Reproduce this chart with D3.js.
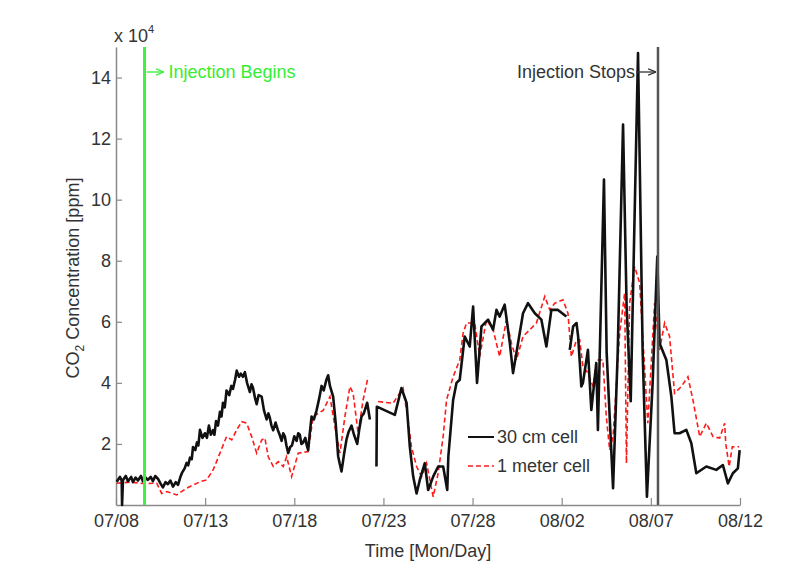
<!DOCTYPE html>
<html>
<head>
<meta charset="utf-8">
<script src="https://cdn.jsdelivr.net/npm/d3@7"></script>
<style>
  body { margin: 0; background: #fff; }
  text { font-family: "Liberation Sans", Arial, Helvetica, sans-serif; }
</style>
</head>
<body>
<svg width="805" height="565"></svg>
<script>
// x values are days since 07/08, y values are CO2 in units of 10^4 ppm
const tickDays = [0, 5, 10, 15, 20, 25, 30, 35];
const tickLabels = ["07/08", "07/13", "07/18", "07/23", "07/28", "08/02", "08/07", "08/12"];
const yTicks = [2, 4, 6, 8, 10, 12, 14];

const injectionBeginDay = 1.6;
const injectionStopDay = 30.4;

// 30 cm cell (null = gap in record)
const cell30cm = [
  [0.04, 0.76], [0.22, 0.92], [0.32, 0.8], [0.34, 0.0], [0.39, 0.82], [0.55, 0.95], [0.67, 0.78],
  [0.85, 0.92], [0.95, 0.75], [1.1, 0.9], [1.23, 0.8], [1.4, 0.95], [1.51, 0.78], [1.65, 0.9],
  [1.79, 0.82], [1.95, 0.92], [2.07, 0.78], [2.2, 0.95], [2.35, 0.86], [2.5, 0.7], [2.63, 0.58],
  [2.78, 0.75], [2.91, 0.68], [3.05, 0.8], [3.2, 0.6], [3.35, 0.75], [3.48, 0.66], [3.6, 0.9],
  [3.7, 1.05], [3.85, 1.2], [3.96, 1.38], [4.05, 1.3], [4.15, 1.55], [4.25, 1.5], [4.32, 1.9],
  [4.45, 1.8], [4.54, 2.05], [4.62, 1.95], [4.71, 2.46], [4.85, 2.2], [4.99, 2.35], [5.1, 2.2],
  [5.21, 2.6], [5.32, 2.3], [5.44, 2.45], [5.52, 2.3], [5.61, 2.75], [5.72, 2.6], [5.83, 3.05],
  [5.92, 2.9], [6.0, 3.35], [6.1, 3.2], [6.2, 3.75], [6.35, 3.6], [6.47, 3.9], [6.56, 3.8],
  [6.68, 4.1], [6.77, 4.4], [6.9, 4.2], [7.0, 4.3], [7.12, 4.2], [7.23, 4.35], [7.35, 4.0],
  [7.51, 3.7], [7.6, 3.95], [7.68, 3.85], [7.8, 3.5], [7.89, 3.3], [8.0, 3.6], [8.17, 3.55],
  [8.3, 3.1], [8.45, 2.8], [8.55, 3.0], [8.63, 2.85], [8.72, 2.6], [8.82, 2.45], [8.95, 2.7],
  [9.08, 2.45], [9.18, 2.3], [9.29, 2.1], [9.38, 2.35], [9.47, 2.25], [9.56, 1.95], [9.66, 1.7],
  [9.77, 1.9], [9.87, 1.95], [10.0, 2.25], [10.13, 2.1], [10.22, 2.35], [10.31, 2.3], [10.4, 2.0],
  [10.5, 2.05], [10.62, 2.2], [10.7, 1.95], [10.78, 1.8], [10.86, 2.3], [10.97, 2.9], [11.1, 2.8],
  [11.25, 3.1], [11.4, 3.5], [11.53, 3.9], [11.65, 3.75], [11.8, 4.1], [11.9, 4.25], [12.0, 3.9],
  [12.18, 3.55], [12.32, 2.7], [12.46, 1.6], [12.55, 1.35], [12.65, 1.1], [12.8, 1.7], [12.93, 2.15],
  [13.05, 2.4], [13.21, 2.6], [13.35, 2.3], [13.53, 2.0], [13.65, 2.5], [13.77, 2.9], [13.9, 3.0],
  [14.09, 3.35], [14.24, 2.8], [14.3, null],
  [14.61, 1.26], [14.63, 3.22], [15.64, 2.95], [16.01, 3.83], [16.3, 3.34], [16.48, 1.91],
  [16.67, 0.93], [16.86, 0.38], [17.04, 0.82], [17.32, 1.37], [17.51, 0.49], [17.79, 0.93],
  [18.07, 1.26], [18.35, 1.26], [18.58, 0.49], [18.64, 1.58], [18.91, 3.44], [19.1, 4.0],
  [19.28, 4.1], [19.56, 5.52], [19.84, 5.19], [20.03, 6.5], [20.25, 4.0], [20.5, 5.85],
  [20.87, 6.07], [21.15, 5.74], [21.34, 6.39], [21.52, 6.17], [21.8, 6.56], [22.09, 5.3],
  [22.27, 4.32], [22.55, 5.3], [22.83, 6.28], [23.11, 6.61], [23.49, 6.28], [23.86, 6.07],
  [24.14, 5.19], [24.42, 6.39], [24.79, 6.39], [25.26, 6.17], [25.35, null],
  [25.45, 5.08], [25.64, 5.85], [25.83, 5.96], [25.92, 5.52], [26.1, 3.88], [26.19, 4.0],
  [26.47, 5.08], [26.66, 3.11], [26.94, 4.65], [27.03, 2.46], [27.37, 10.66], [27.52, 5.0],
  [27.88, 0.55], [28.14, 5.0], [28.44, 12.46], [28.64, 6.5], [28.87, 3.4], [29.28, 14.8],
  [29.54, 5.0], [29.78, 0.27], [30.1, 4.0], [30.36, 8.14], [30.49, 5.3], [30.87, 4.75],
  [31.15, 3.55], [31.33, 2.35], [31.61, 2.35], [31.99, 2.46], [32.27, 2.02], [32.55, 1.04],
  [33.11, 1.26], [33.67, 1.15], [34.04, 1.31], [34.32, 0.71], [34.6, 1.04], [34.88, 1.2], [34.98, 1.8]
];

// 1 meter cell
const cell1m = [
  [0.04, 0.71], [0.78, 0.75], [1.63, 0.7], [2.28, 0.72], [2.56, 0.38], [2.84, 0.44], [3.4, 0.33],
  [3.96, 0.55], [4.71, 0.76], [5.08, 0.82], [5.45, 1.15], [5.83, 1.7], [6.2, 2.24], [6.49, 2.13],
  [6.77, 2.46], [7.05, 2.73], [7.33, 2.68], [7.61, 2.24], [7.89, 1.7], [8.17, 2.13], [8.35, 2.19],
  [8.54, 1.58], [8.82, 1.26], [9.1, 1.42], [9.38, 1.26], [9.57, 1.58], [9.85, 0.93], [10.22, 1.7],
  [10.78, 1.75], [11.06, 2.9], [11.62, 3.1], [12.0, 3.55], [12.28, 2.57], [12.56, 1.7], [12.84, 2.9],
  [13.12, 3.88], [13.3, 3.66], [13.58, 2.35], [13.86, 3.44], [14.14, 4.2], [14.3, null],
  [14.7, 3.39], [15.54, 3.33], [16.1, 3.83], [16.38, 2.79], [16.57, 1.91], [16.86, 1.26],
  [17.14, 0.93], [17.42, 1.37], [17.79, 0.27], [18.07, 1.04], [18.35, 2.24], [18.54, 3.44],
  [18.91, 4.2], [19.28, 4.75], [19.47, 5.63], [19.66, 5.96], [20.12, 5.96], [20.4, 4.86],
  [20.78, 6.07], [21.15, 5.74], [21.52, 4.86], [21.9, 6.07], [22.18, 5.3], [22.46, 4.75],
  [22.83, 5.52], [23.21, 5.74], [23.58, 5.96], [24.05, 6.83], [24.33, 6.39], [24.61, 6.61],
  [25.07, 6.72], [25.35, 6.28], [25.54, 4.86], [25.83, 5.41], [26.01, 5.41], [26.19, 4.53],
  [26.47, 4.32], [26.76, 3.88], [26.94, 4.75], [27.31, 4.75], [27.5, 2.9], [27.69, 1.8],
  [27.88, 2.24], [28.25, 5.63], [28.53, 6.94], [28.63, 1.37], [28.81, 6.61], [29.09, 7.81],
  [29.37, 7.27], [29.83, 2.68], [30.21, 6.61], [30.49, 5.08], [30.77, 5.96], [31.05, 5.52],
  [31.33, 3.66], [31.71, 3.88], [32.08, 4.2], [32.36, 3.44], [32.74, 2.24], [33.11, 2.68],
  [33.49, 2.24], [33.86, 2.19], [34.14, 2.68], [34.2, 2.02], [34.39, 1.26], [34.57, 1.91], [34.95, 1.91]
];

const svg = d3.select("svg");
const fontSize = 18;

const x = d3.scaleLinear().domain([0, 35]).range([116, 740]);
const y = d3.scaleLinear().domain([0, 15]).range([505, 47]);

// axes, MATLAB style ticks pointing inward
const xAxis = svg.append("g")
  .attr("transform", `translate(0, ${y(0)})`)
  .call(d3.axisBottom(x)
    .tickValues(tickDays)
    .tickFormat((d, i) => tickLabels[i])
    .tickSizeInner(-7)
    .tickSizeOuter(0)
    .tickPadding(9));

const yAxis = svg.append("g")
  .attr("transform", `translate(${x(0)}, 0)`)
  .call(d3.axisLeft(y)
    .tickValues(yTicks)
    .tickSizeInner(-6)
    .tickSizeOuter(0)
    .tickPadding(5));

[xAxis, yAxis].forEach(g => {
  g.select(".domain").attr("stroke", "#8a8a8a").attr("stroke-width", 1.5);
  g.selectAll(".tick line").attr("stroke", "#8a8a8a").attr("stroke-width", 1.2);
  g.selectAll(".tick text")
    .attr("fill", "#333")
    .style("font-size", fontSize + "px")
    .style("font-family", "'Liberation Sans', Arial, sans-serif");
});

// x 10^4 multiplier
const mult = svg.append("text")
  .attr("x", 114)
  .attr("y", 42)
  .attr("fill", "#333")
  .style("font-size", fontSize + "px");
mult.append("tspan").text("x 10");
mult.append("tspan").attr("dy", -9).style("font-size", "11px").text("4");

// data lines
const line = d3.line()
  .defined(d => d[1] != null)
  .x(d => x(d[0]))
  .y(d => y(d[1]));

svg.append("path")
  .datum(cell1m)
  .attr("d", line)
  .attr("fill", "none")
  .attr("stroke", "#ff1a1a")
  .attr("stroke-width", 1.6)
  .attr("stroke-dasharray", "5,3");

svg.append("path")
  .datum(cell30cm)
  .attr("d", line)
  .attr("fill", "none")
  .attr("stroke", "#111")
  .attr("stroke-width", 2.6)
  .attr("stroke-linejoin", "round");

// arrow markers
const defs = svg.append("defs");
[["arrowGreen", "#33ee33"], ["arrowGray", "#333"]].forEach(([id, c]) => {
  defs.append("marker")
    .attr("id", id)
    .attr("viewBox", "0 -5 10 10")
    .attr("refX", 10)
    .attr("refY", 0)
    .attr("markerWidth", 6)
    .attr("markerHeight", 6)
    .attr("orient", "auto")
    .append("path")
    .attr("d", "M0,-4L10,0L0,4")
    .attr("fill", "none")
    .attr("stroke", c)
    .attr("stroke-width", 1.5);
});

// injection begins
const xb = x(injectionBeginDay);
svg.append("line")
  .attr("x1", xb).attr("x2", xb)
  .attr("y1", y(15)).attr("y2", y(0))
  .attr("stroke", "#44ee44")
  .attr("stroke-width", 3);

svg.append("line")
  .attr("x1", xb + 2).attr("x2", xb + 19)
  .attr("y1", 72).attr("y2", 72)
  .attr("stroke", "#33ee33")
  .attr("stroke-width", 1.3)
  .attr("marker-end", "url(#arrowGreen)");

svg.append("text")
  .attr("x", xb + 24)
  .attr("y", 78)
  .attr("fill", "#33ee33")
  .style("font-size", fontSize + "px")
  .text("Injection Begins");

// injection stops
const xs = x(injectionStopDay);
svg.append("line")
  .attr("x1", xs).attr("x2", xs)
  .attr("y1", y(15)).attr("y2", y(0))
  .attr("stroke", "#555")
  .attr("stroke-width", 2.5);

svg.append("line")
  .attr("x1", xs - 22).attr("x2", xs - 2)
  .attr("y1", 72).attr("y2", 72)
  .attr("stroke", "#333")
  .attr("stroke-width", 1.3)
  .attr("marker-end", "url(#arrowGray)");

svg.append("text")
  .attr("x", xs - 23)
  .attr("y", 78)
  .attr("text-anchor", "end")
  .attr("fill", "#333")
  .style("font-size", fontSize + "px")
  .text("Injection Stops");

// legend
const legend = [
  {label: "30 cm cell", color: "#111", dash: null, width: 2},
  {label: "1 meter cell", color: "#ff1a1a", dash: "5,3", width: 1.6}
];
legend.forEach((d, i) => {
  const ly = 437 + i * 29;
  svg.append("line")
    .attr("x1", 468).attr("x2", 494)
    .attr("y1", ly).attr("y2", ly)
    .attr("stroke", d.color)
    .attr("stroke-width", d.width)
    .attr("stroke-dasharray", d.dash);
  svg.append("text")
    .attr("x", 497)
    .attr("y", ly + 6)
    .attr("fill", "#333")
    .style("font-size", fontSize + "px")
    .text(d.label);
});

// axis labels
svg.append("text")
  .attr("x", 428)
  .attr("y", 557)
  .attr("text-anchor", "middle")
  .attr("fill", "#333")
  .style("font-size", fontSize + "px")
  .text("Time [Mon/Day]");

const ylab = svg.append("text")
  .attr("transform", "translate(79, 278) rotate(-90)")
  .attr("text-anchor", "middle")
  .attr("fill", "#333")
  .style("font-size", fontSize + "px");
ylab.append("tspan").text("CO");
ylab.append("tspan").attr("dy", 5).style("font-size", "12px").text("2");
ylab.append("tspan").attr("dy", -5).text(" Concentration [ppm]");
</script>
</body>
</html>
